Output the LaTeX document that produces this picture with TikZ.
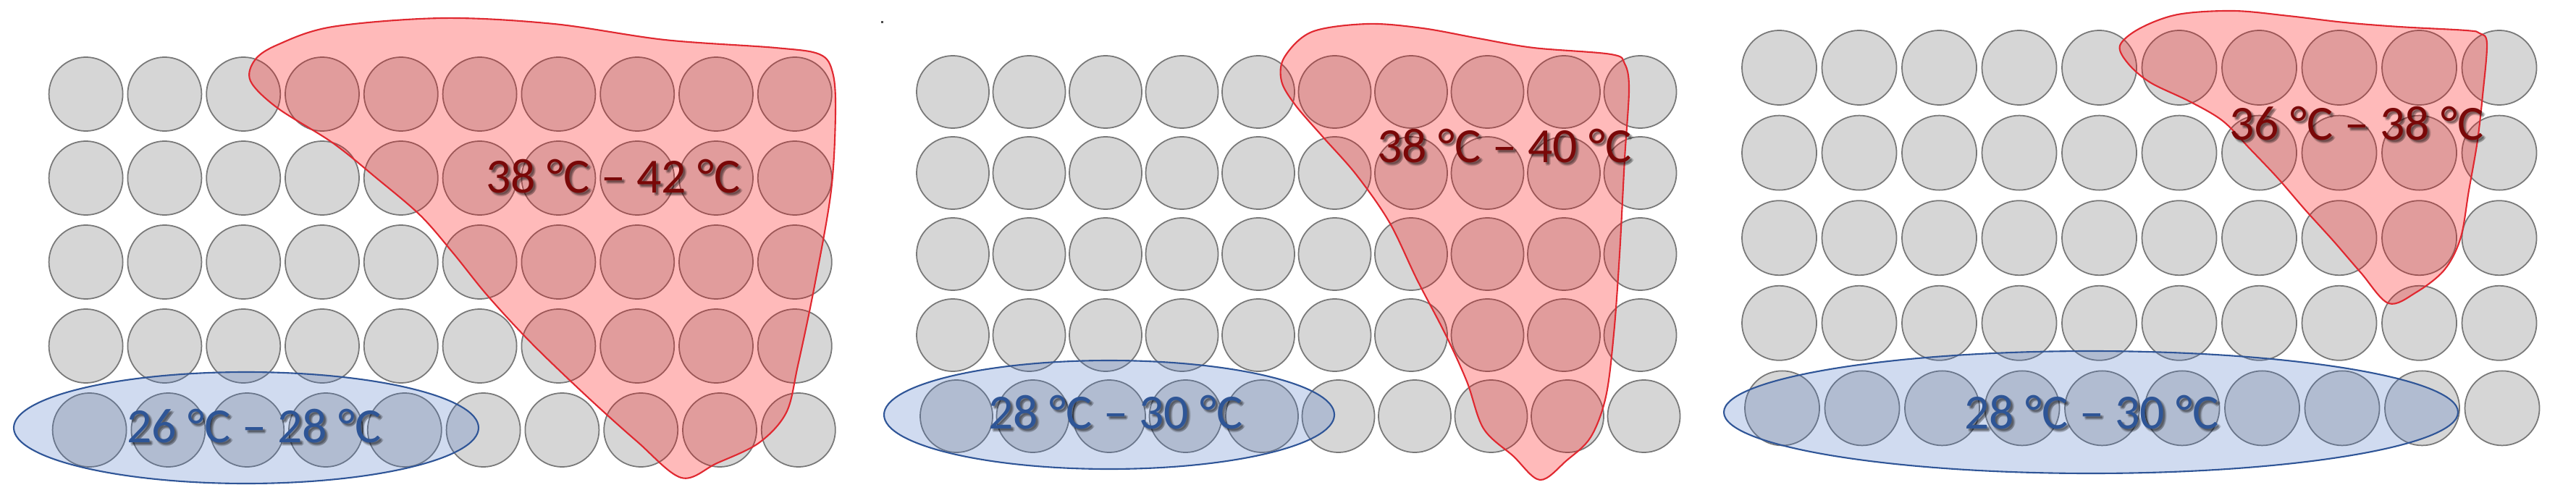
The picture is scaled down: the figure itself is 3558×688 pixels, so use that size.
\documentclass[tikz,border=0pt]{standalone}
\usepackage{fontspec}
\setmainfont{Carlito}
\definecolor{cellfill}{RGB}{214,214,214}
\definecolor{cellline}{RGB}{120,120,120}
\definecolor{blobline}{RGB}{224,40,48}
\definecolor{ovalfill}{RGB}{68,114,196}
\definecolor{ovalline}{RGB}{47,85,151}
\definecolor{hottext}{RGB}{122,8,8}
\definecolor{coldtext}{RGB}{46,85,150}
\begin{document}
\begin{tikzpicture}[x=0.01cm,y=-0.01cm,
  cell/.style={circle,draw=cellline,fill=cellfill,line width=0.5pt,inner sep=0pt},
  hotzone/.style={fill=red,fill opacity=0.27,draw=blobline,draw opacity=1,line width=0.6pt},
  coldzone/.style={fill=ovalfill,fill opacity=0.25,draw=ovalline,draw opacity=1,line width=0.6pt},
  lbl/.style={inner sep=0pt,font=\fontsize{19.3}{23}\selectfont},
  hotlbl/.style={lbl,text=hottext},
  coldlbl/.style={lbl,text=coldtext},
  shadowlbl/.style={lbl,text=black,text opacity=0.13}]
\useasboundingbox (0,0) rectangle (3558,688);
\fill[white] (0,0) rectangle (3558,688);
% tiny speck
\fill[black!70] (1216.5,29.5) rectangle (1219.5,32.5);
% ---------- grids ----------
\foreach \c in {0,...,9}{
  \foreach \r in {0,...,4}{
    \pgfmathsetmacro\xa{118.6+108.8*\c+ifthenelse(\r==4,5,0)}
    \pgfmathsetmacro\ya{130+116*\r}
    \node[cell,minimum size=1.02cm] (a-\r-\c) at (\xa,\ya) {};
    \pgfmathsetmacro\xb{1316+105.5*\c+ifthenelse(\r==4,5,0)}
    \pgfmathsetmacro\yb{127+112*\r}
    \node[cell,minimum size=1.0cm] (b-\r-\c) at (\xb,\yb) {};
    \pgfmathsetmacro\xc{2457.5+110.5*\c+ifthenelse(\r==4,4,0)}
    \pgfmathsetmacro\yc{93.5+117.6*\r}
    \node[cell,minimum size=1.03cm] (c-\r-\c) at (\xc,\yc) {};
  }
}
% ---------- cold zones ----------
\path[coldzone] (340,591) ellipse [x radius=321, y radius=77];
\path[coldzone] (1532,573) ellipse [x radius=311, y radius=75];
\path[coldzone] (2888,569.5) ellipse [x radius=507, y radius=84.5];
% ---------- hot zones ----------
\path[hotzone] plot[smooth cycle,tension=0.55] coordinates {
 (352,83) (383,62) (459,37) (612,25) (765,33) (918,55) (1071,66) (1132,75)
 (1150,100) (1154,154) (1148,263) (1125,395) (1102,505) (1086,570) (1048,612)
 (990,640) (941,660) (880,610) (811,548) (734,474) (673,408) (627,351)
 (581,298) (520,246) (459,197) (383,149) (346,112)};
\path[hotzone] plot[smooth cycle,tension=0.55] coordinates {
 (1774,79) (1812,44) (1889,33) (1965,39) (2042,53) (2118,66) (2225,75)
 (2244,88) (2250,123) (2244,219) (2237,351) (2229,461) (2218,548) (2197,604)
 (2164,636) (2127,663) (2090,630) (2049,592) (2026,527) (1996,461) (1957,386)
 (1919,307) (1873,241) (1827,189) (1789,145) (1770,112)};
\path[hotzone] plot[smooth cycle,tension=0.55] coordinates {
 (2955,39.5) (3008,20) (3085,15) (3161,22) (3238,31) (3314,37) (3406,42)
 (3425,46) (3435,60) (3429,132) (3421.5,197) (3410,263) (3398.5,329)
 (3376,373) (3337,404) (3299,419) (3261,377) (3223,333) (3184,290)
 (3146,246) (3108,206) (3070,167) (3024,140) (2970,114) (2939.5,88) (2928,63)};
% ---------- labels (with soft shadow) ----------
\foreach \px/\py/\txt/\kind/\nm in {
   847/244/{38 °C – 42 °C}/hotlbl/h1,
   2078/202/{38 °C – 40 °C}/hotlbl/h2,
   3255/171/{36 °C – 38 °C}/hotlbl/h3,
   351/589/{26 °C – 28 °C}/coldlbl/k1,
   1541/570/{28 °C – 30 °C}/coldlbl/k2,
   2889/570/{28 °C – 30 °C}/coldlbl/k3}{
  \foreach \dx/\dy in {2/3,4/4,3/5,5/3,3/2}{
    \node[shadowlbl] at (\px+\dx,\py+\dy) {\txt};
  }
  \node[\kind] (\nm) at (\px,\py) {\txt};
}
\end{tikzpicture}
\end{document}
